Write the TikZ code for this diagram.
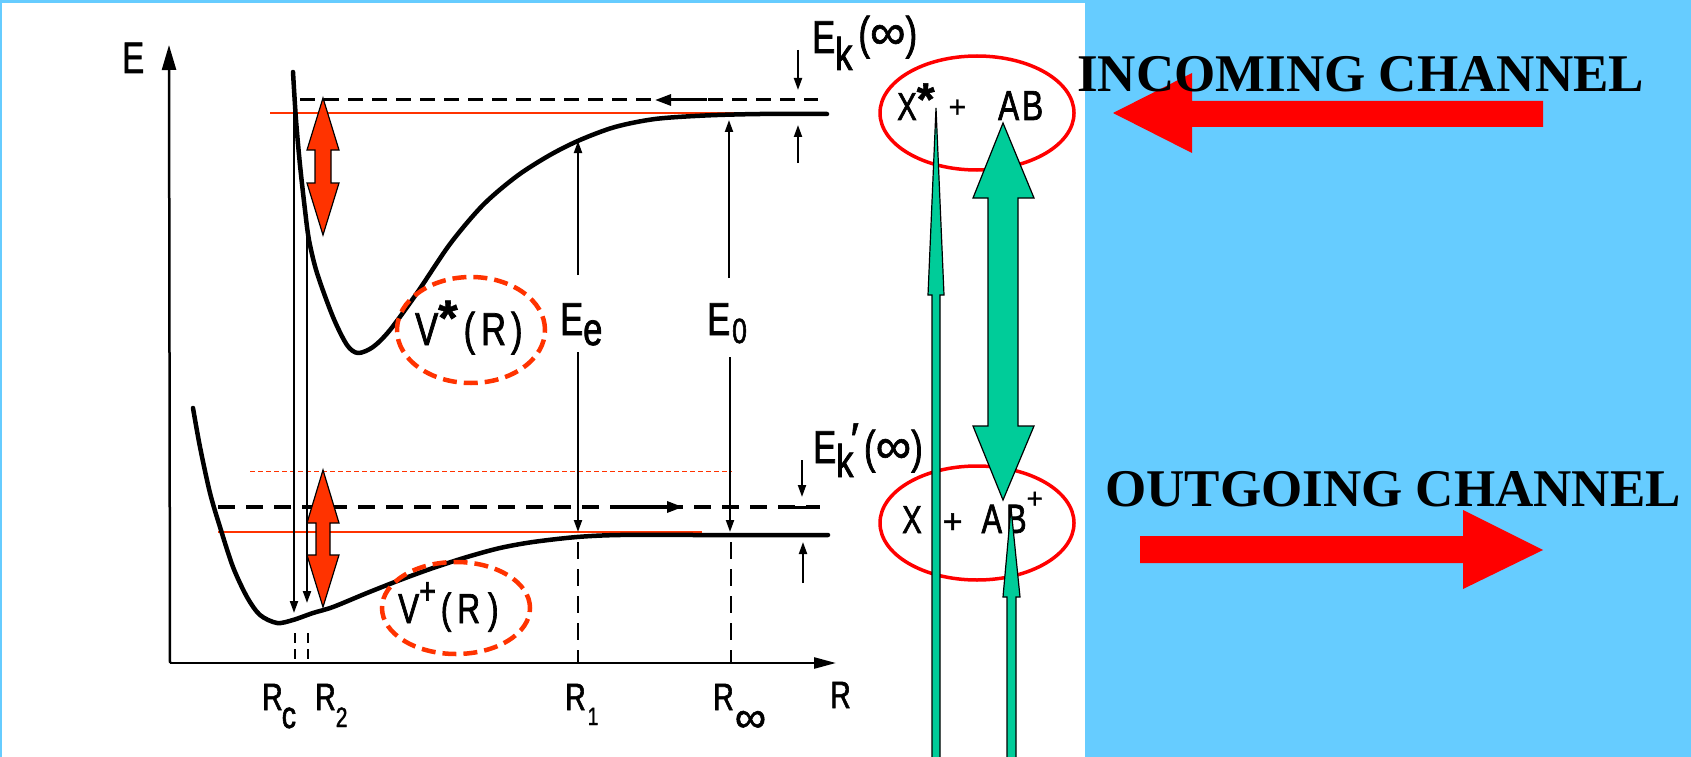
\documentclass[tikz,border=0pt]{standalone}
\usepackage{fontspec}
\setmainfont{Liberation Serif}
\newfontfamily\scan[FakeStretch=0.75,FakeBold=1.6]{Liberation Sans}
\newfontfamily\plainsans[FakeBold=1.2]{Liberation Sans}
\usetikzlibrary{shapes.geometric,arrows.meta}
\definecolor{skyb}{HTML}{66CCFF}
\definecolor{grn}{HTML}{00CC99}
\definecolor{orred}{HTML}{FF3300}
\newcommand{\setfs}[1]{\fontsize{#1}{#1}\selectfont}
\newcommand{\inft}[1]{{\plainsans\setfs{#1}∞}}
\begin{document}
\begin{tikzpicture}[x=1pt,y=-1pt,
  lbl/.style={inner sep=0pt,anchor=base west,font=\scan},
  vline/.style={line width=2pt},
  tipd/.style={-{Triangle[length=12pt,width=8pt]}},
  curve/.style={line width=4.5pt,line cap=round,line join=round},
  bdash/.style={line width=3pt,dash pattern=on 15pt off 9pt},
  vdash/.style={line width=2.2pt,dash pattern=on 17pt off 10pt},
  grnarrow/.style={fill=grn,draw=black,line width=1.2pt,line join=miter},
  dblred/.style={fill=orred,draw=black,line width=1.2pt},
  dell/.style={ellipse,draw=orred,line width=4.5pt,dash pattern=on 14pt off 7pt,inner sep=0pt},
  rell/.style={ellipse,draw=red,line width=3.5pt,inner sep=0pt},
  big/.style={inner sep=0pt,anchor=base west,font={\bfseries\setfs{53}}}
]
\useasboundingbox (0,0) rectangle (1691,757);
\fill[skyb] (0,0) rectangle (1691,757);
\fill[white] (2,3) rectangle (1085,757);

% axes
\coordinate (O) at (170,663);
\coordinate (Etop) at (169,45);
\coordinate (Rend) at (836,663);
\draw[line width=2.5pt,-{Triangle[length=25pt,width=14pt]}] (O) -- (Etop);
\draw[line width=2.5pt,-{Triangle[length=22pt,width=11pt]}] (O) -- (Rend);

% red guide lines
\draw[orred,line width=1.3pt] (270,113) -- (753,113);
\draw[orred,line width=1.3pt] (218,532) -- (702,532);
\draw[orred,line width=1pt,dash pattern=on 5pt off 3pt] (250,471) -- (732,471);

% black dashed levels
\draw[bdash] (300,100) -- (818,100);
\draw[line width=3pt,-{Triangle[length=16pt,width=11pt]}] (707,100) -- (655,100);
\draw[line width=3.2pt,dash pattern=on 17pt off 11pt] (218,507) -- (820,507);
\draw[line width=3.2pt,-{Triangle[length=16pt,width=11pt]}] (622,507) -- (683,507);

% potential curves
\draw[curve] plot[smooth,tension=0.5] coordinates {(293,72) (296,120) (300,165) (305,210) (309,240) (317,273) (333,317) (347,345) (358,353) (373,347) (390,330) (417,293) (450,244) (483,205) (517,176) (550,155) (580,140) (615,127) (655,119) (705,115.5) (760,114) (827,114)};
\draw[curve] plot[smooth,tension=0.5] coordinates {(193,408) (200,447) (210,493) (220,527) (233,567) (247,597) (260,615) (277,623) (293,620) (313,613) (333,607) (367,593) (400,580) (433,568) (467,557) (500,548) (533,542) (577,537) (620,535) (700,535) (828,535)};

% vertical transitions
\draw[vline,tipd] (294,72) -- (294,613);
\draw[vline,tipd] (307,232) -- (307,603);
\draw[line width=2pt,dash pattern=on 10pt off 6pt] (295,633) -- (295,663);
\draw[line width=2pt,dash pattern=on 10pt off 6pt] (308,633) -- (308,663);
\draw[vline,tipd] (578,275) -- (578,141);
\draw[vline,tipd] (578,352) -- (578,532);
\draw[vdash] (578,542) -- (578,663);
\draw[vline,tipd] (729,278) -- (729,120);
\draw[vline,tipd] (730,357) -- (730,532);
\draw[vdash] (731,542) -- (731,663);

% asymptote markers
\draw[vline,tipd] (798,50) -- (798,90);
\draw[vline,tipd] (798,163) -- (798,125);
\draw[vline,tipd] (802,460) -- (802,497);
\draw[line width=3pt] (792,507) -- (820,507);
\draw[vline,tipd] (803,583) -- (803,542);

% red double arrows
\draw[dblred] (323,98) -- (339,150) -- (331,150) -- (331,183) -- (339,183) -- (323,235) -- (307,183) -- (315,183) -- (315,150) -- (307,150) -- cycle;
\draw[dblred] (323,470) -- (339,523) -- (330,523) -- (330,555) -- (339,555) -- (323,607) -- (307,555) -- (316,555) -- (316,523) -- (307,523) -- cycle;

% dashed ellipses
\node[dell,minimum width=148pt,minimum height=106pt] (vstarell) at (471,330) {};
\node[dell,minimum width=148pt,minimum height=92pt] (vplusell) at (456,608) {};

% plot labels
\node[lbl] (Elab) at (122,73) {\setfs{44}E};
\node[lbl] (Rlab) at (830,708) {\setfs{38}R};
\node[lbl] (Rc) at (262,710) {\setfs{38}R\kern-1pt\raisebox{-18pt}{c}};
\node[lbl] (R2) at (315,710) {\setfs{38}R\raisebox{-17pt}{\setfs{28}2}};
\node[lbl] (R1) at (565,710) {\setfs{38}R\kern2pt\raisebox{-15pt}{\setfs{25}1}};
\node[lbl] (Rinf) at (713,710) {\setfs{38}R\kern1pt\raisebox{-22pt}{\inft{44}}};
\node[lbl] (Ek) at (812,53) {\setfs{46}E\raisebox{-17pt}{k}\hspace{6pt}\raisebox{4pt}{(\inft{50})}};
\node[lbl] (Ekp) at (813,463) {\setfs{46}E\raisebox{-14pt}{k}\kern-3pt\raisebox{8pt}{\plainsans ′}\hspace{5pt}(\inft{50})};
\node[lbl] (Ee) at (560,335) {\setfs{46}E\raisebox{-10pt}{e}};
\node[lbl] (E0) at (707,335) {\setfs{46}E\kern2pt\raisebox{-8pt}{\setfs{35}0}};
\node[lbl] (vstar) at (415,345) {\setfs{46}V\raisebox{10pt}{\plainsans\bfseries\setfs{50}*}\hspace{6pt}(\hspace{6pt}R\hspace{5pt})};
\node[lbl] (vplus) at (398,623) {\setfs{42}V\raisebox{19pt}{\setfs{38}+}\hspace{5pt}(\hspace{6pt}R\hspace{8pt})};

% channel ellipses
\node[rell,minimum width=194pt,minimum height=114pt] (inell) at (977,113) {};
\node[rell,minimum width=194pt,minimum height=114pt] (outell) at (977,523) {};
\node[lbl] (xs) at (897,120) {\setfs{39}X\raisebox{5pt}{\plainsans\bfseries\setfs{46}*}\hspace{14pt}\raisebox{3pt}{\plainsans\setfs{30}+}\hspace{32pt}{\setfs{42}A\kern3pt B}};
\node[lbl] (xp) at (902,533) {\setfs{39}X\hspace{21pt}{\plainsans\setfs{34}+}\hspace{19pt}{\setfs{41}A\kern4pt B}\raisebox{25pt}{\plainsans\setfs{28}+}};

% green arrows
\draw[grnarrow] (932,760) -- (932,295) -- (928,295) -- (936,108) -- (944,295) -- (940,295) -- (940,760) -- cycle;
\draw[grnarrow] (1007,760) -- (1007,597) -- (1003,597) -- (1011,508) -- (1020,597) -- (1016,597) -- (1016,760) -- cycle;
\draw[grnarrow] (1003,123) -- (1034,198) -- (1018,198) -- (1018,426) -- (1034,426) -- (1003,500) -- (973,426) -- (988,426) -- (988,198) -- (973,198) -- cycle;

% channel arrows
\fill[red] (1113,113) -- (1192,73) -- (1192,101) -- (1543,101) -- (1543,127) -- (1192,127) -- (1192,153) -- cycle;
\fill[red] (1140,536) -- (1463,536) -- (1463,510) -- (1543,550) -- (1463,589) -- (1463,563) -- (1140,563) -- cycle;

\node[big] (incoming) at (1077,92) {INCOMING CHANNEL};
\node[big] (outgoing) at (1105,506) {OUTGOING CHANNEL};
\end{tikzpicture}
\end{document}
